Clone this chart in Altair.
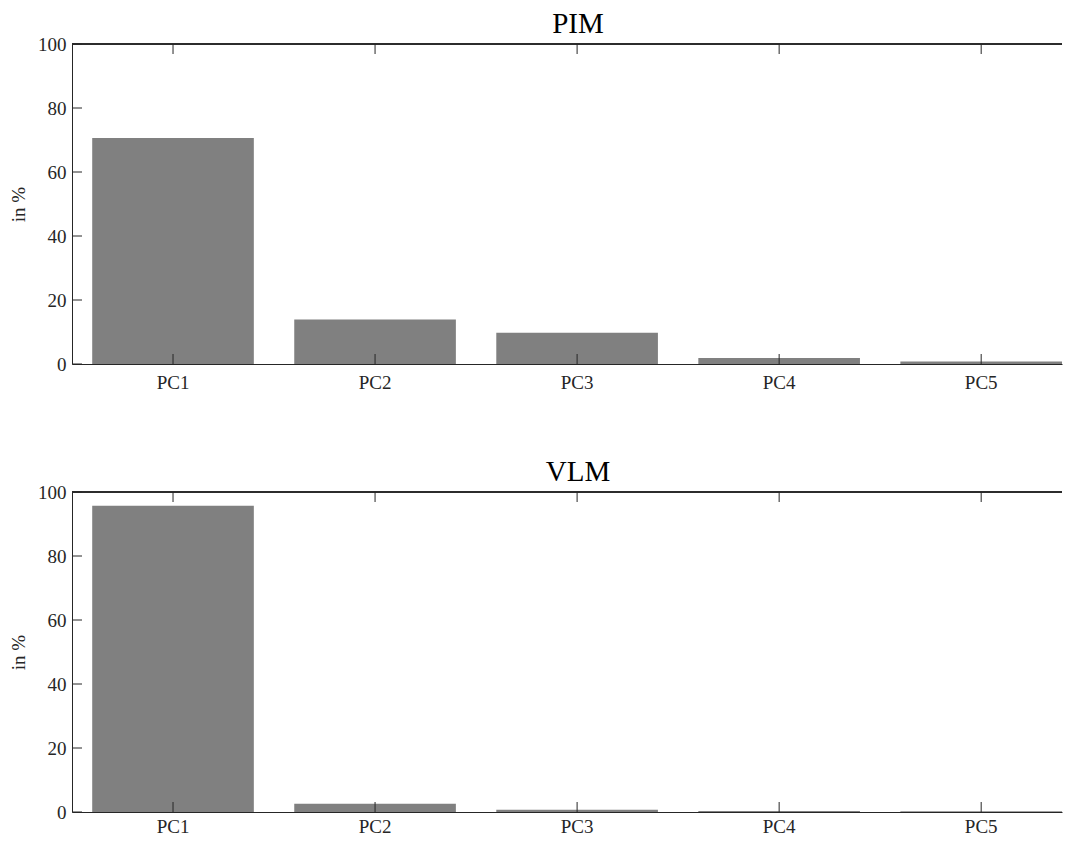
import altair as alt
import pandas as pd

components = ["PC1", "PC2", "PC3", "PC4", "PC5"]
pim_values = [70.6, 13.9, 9.8, 1.9, 0.8]
vlm_values = [95.7, 2.6, 0.7, 0.3, 0.2]
y_tick_values = [0, 20, 40, 60, 80, 100]
panel_titles = ["PIM", "VLM"]

W = 990
H = 320
FONT = "Liberation Serif"
INK = "#262626"
TICK = 10

y_axis = alt.Axis(title="in %", values=y_tick_values, ticks=False, grid=False,
                  labelPadding=6, titlePadding=9, domainColor=INK)


def panel(title, values, label_pad):
    x_axis = alt.Axis(title=None, labelAngle=0, ticks=False,
                      labelPadding=label_pad, domainColor=INK)
    df = pd.DataFrame({"pc": components, "v": values})
    dfy = pd.DataFrame({"t": y_tick_values})
    xs = alt.Scale(domain=components, paddingInner=0.2, paddingOuter=0.05,
                   align=1)
    ys = alt.Scale(domain=[0, 100], nice=False)
    X = alt.X("pc:N", scale=xs, sort=components, axis=x_axis)

    bars = alt.Chart(df).mark_bar(color="#808080").encode(
        x=X,
        y=alt.Y("v:Q", scale=ys, axis=y_axis),
    )
    frame_top = alt.Chart(df).mark_rule(color=INK, strokeWidth=1).encode(
        x=alt.value(0), x2=alt.value(W), y=alt.value(0))
    xt_top = alt.Chart(df).mark_rule(color=INK, strokeWidth=1).encode(
        x=X, y=alt.value(0), y2=alt.value(TICK))
    xt_bot = alt.Chart(df).mark_rule(color=INK, strokeWidth=1).encode(
        x=X, y=alt.value(H), y2=alt.value(H - TICK))
    yt_left = alt.Chart(dfy).mark_rule(color=INK, strokeWidth=1).encode(
        y=alt.Y("t:Q", scale=ys, axis=y_axis),
        x=alt.value(0), x2=alt.value(TICK))
    return alt.layer(bars, frame_top, xt_top, xt_bot, yt_left).properties(
        width=W, height=H,
        title=alt.Title(title, font=FONT, fontSize=29, fontWeight="normal",
                        color="black", offset=-4, dx=11),
    )


chart = alt.vconcat(
    panel(panel_titles[0], pim_values, 9),
    panel(panel_titles[1], vlm_values, 5),
    spacing=128, bounds="flush",
).properties(
    autosize=alt.AutoSizeParams(type="none"),
    padding={"left": 64, "top": 36, "right": 3, "bottom": 790},
    background="white",
).configure_view(
    strokeWidth=0,
).configure_axis(
    labelFont=FONT, labelFontSize=19, labelColor=INK,
    titleFont=FONT, titleFontSize=19, titleFontWeight="normal", titleColor=INK,
)

chart.save("out.html", embed_options={"renderer": "svg", "actions": False})
